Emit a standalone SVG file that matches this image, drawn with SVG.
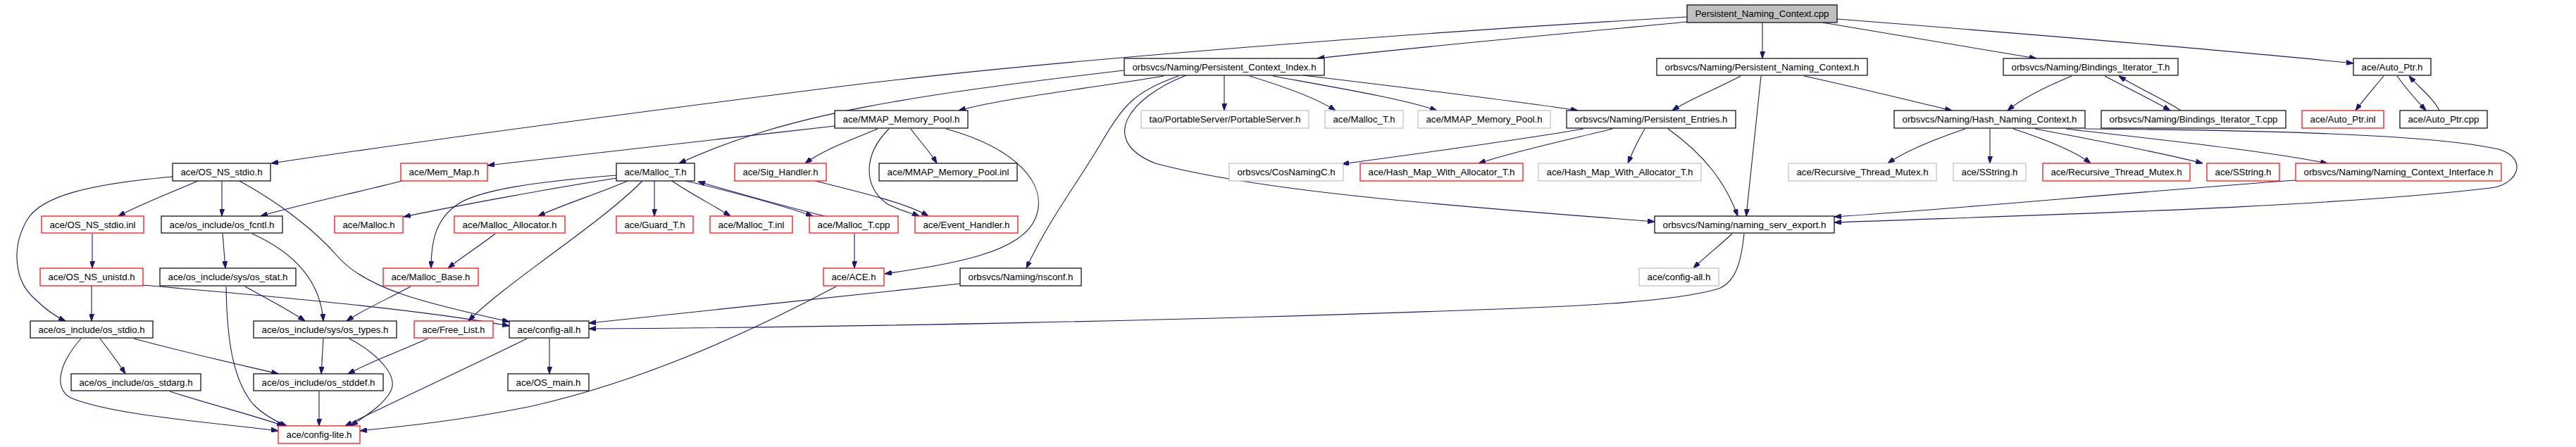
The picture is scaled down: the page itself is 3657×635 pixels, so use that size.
<svg xmlns="http://www.w3.org/2000/svg" width="3657" height="635" viewBox="0 0 3657 635">
<style>
.n rect{fill:#fff;stroke:#000;stroke-width:1.2}
.n.red rect{stroke:#f00}
.n.gray rect{stroke:#bfbfbf}
.n.root rect{fill:#bfbfbf}
.n text{font-family:"Liberation Sans",Arial,sans-serif;font-size:13px;fill:#000;text-anchor:middle}
#edges path{fill:none;stroke:#191970;stroke-width:1.1;marker-end:url(#ah)}
</style>
<defs>
<marker id="ah" viewBox="0 0 10 7" markerWidth="10" markerHeight="7" markerUnits="userSpaceOnUse" refX="10" refY="3.5" orient="auto">
<path d="M0,0 L10,3.5 L0,7 z" fill="#191970" stroke="#191970"/>
</marker>
</defs>
<rect width="3657" height="635" fill="#fff"/>
<g id="edges">
<path d="M2395,31 C2200,50 2000,68 1870,83"/>
<path d="M2395,24 C2000,47 1500,85 1200,122 C900,160 600,200 385,232"/>
<path d="M2502,32 L2502,83"/>
<path d="M2587,32 C2700,50 2800,68 2891,83"/>
<path d="M2608,27 C2900,50 3200,75 3341,90"/>
<path d="M1595,100 C1300,135 1120,160 964,232"/>
<path d="M1652,108 C1550,125 1420,140 1361,157"/>
<path d="M1738,107 L1738,157"/>
<path d="M1774,108 C1830,125 1870,140 1896,157"/>
<path d="M1807,108 C1900,125 1990,140 2040,157"/>
<path d="M1850,107 C2000,125 2150,143 2240,157"/>
<path d="M1673,108 C1610,130 1595,150 1565,200 C1530,260 1490,310 1457,381"/>
<path d="M1684,107 C1600,140 1560,200 1640,232 C1800,275 2100,295 2349,315"/>
<path d="M2248,183 C2150,200 2000,220 1905,233"/>
<path d="M2289,183 C2220,200 2150,215 2099,232"/>
<path d="M2335,183 C2325,200 2318,215 2311,232"/>
<path d="M2368,183 C2420,220 2450,260 2467,307"/>
<path d="M2471,108 C2440,125 2400,140 2374,157"/>
<path d="M2500,108 L2479,307"/>
<path d="M2561,108 C2640,125 2720,145 2771,157"/>
<path d="M2941,108 C2900,125 2870,140 2850,157"/>
<path d="M2988,108 C3020,125 3055,142 3081,157"/>
<path d="M3096,157 C3070,140 3035,125 3008,108"/>
<path d="M3384,108 C3370,125 3355,142 3344,157"/>
<path d="M3403,108 C3415,125 3430,142 3444,157"/>
<path d="M3463,157 C3455,140 3435,125 3420,108"/>
<path d="M2790,183 C2740,200 2700,218 2680,232"/>
<path d="M2825,183 L2825,232"/>
<path d="M2858,183 C2910,200 2950,218 2968,232"/>
<path d="M2889,183 C2980,200 3080,220 3127,232"/>
<path d="M2933,183 C3080,200 3220,215 3304,232"/>
<path d="M2960,183 C3200,185 3450,190 3547,212 C3590,225 3575,262 3536,267 C3300,295 2900,305 2604,316"/>
<path d="M3259,256 C3000,275 2800,295 2604,308"/>
<path d="M2459,332 C2440,350 2420,365 2404,381"/>
<path d="M2476,332 C2472,370 2465,400 2440,410 C2380,428 2250,435 2100,440 C1700,455 1200,465 836,467"/>
<path d="M1363,403 C1200,420 1000,442 836,459"/>
<path d="M1185,179 C1000,200 800,222 692,235"/>
<path d="M1246,183 C1210,198 1170,212 1143,232"/>
<path d="M1293,183 C1305,200 1320,215 1330,232"/>
<path d="M1262,183 C1225,220 1225,265 1260,290 C1280,300 1295,303 1305,307"/>
<path d="M1157,257 C1230,275 1290,290 1318,307"/>
<path d="M1343,183 C1440,210 1490,260 1470,310 C1450,360 1350,375 1256,389"/>
<path d="M875,253 C780,268 650,292 573,308"/>
<path d="M875,249 C760,258 680,270 650,290 C620,310 612,340 612,381"/>
<path d="M891,257 C850,275 800,290 764,307"/>
<path d="M912,257 C850,320 720,400 665,456"/>
<path d="M929,257 L929,307"/>
<path d="M954,257 C980,275 1010,290 1037,307"/>
<path d="M974,257 C1050,275 1110,292 1154,307"/>
<path d="M1171,307 C1100,290 1040,272 991,258"/>
<path d="M703,332 C680,350 660,362 636,381"/>
<path d="M1213,332 L1213,381"/>
<path d="M1187,407 C1050,480 900,545 750,578 C650,598 570,606 511,612"/>
<path d="M780,481 L780,531"/>
<path d="M748,481 C690,510 560,570 490,605"/>
<path d="M607,481 C570,498 530,512 494,531"/>
<path d="M245,251 C120,262 60,280 40,310 C15,350 20,400 50,425 C65,440 80,450 93,456"/>
<path d="M281,257 C240,275 200,290 168,307"/>
<path d="M315,257 L315,307"/>
<path d="M340,257 C400,290 450,330 480,365 C520,410 600,430 723,457"/>
<path d="M571,257 C500,275 420,292 370,307"/>
<path d="M316,332 L320,381"/>
<path d="M358,332 C420,360 455,400 459,456"/>
<path d="M131,332 L131,381"/>
<path d="M130,406 L130,456"/>
<path d="M203,405 C400,422 600,440 723,463"/>
<path d="M348,407 C380,425 410,440 433,456"/>
<path d="M321,407 C322,480 330,540 360,575 C375,590 395,600 407,605"/>
<path d="M583,407 C550,425 515,440 492,456"/>
<path d="M142,481 C155,498 168,515 178,531"/>
<path d="M190,481 C260,500 340,518 395,531"/>
<path d="M115,481 C85,515 75,550 100,565 C160,590 300,600 395,612"/>
<path d="M459,481 L456,531"/>
<path d="M496,481 C540,505 565,535 555,555 C545,575 520,590 498,605"/>
<path d="M241,556 C300,575 360,590 403,605"/>
<path d="M453,556 L453,605"/>
</g>
<g id="n0" class="n root"><rect x="2395" y="7" width="213" height="25"/><text x="2501.5" y="24" textLength="190" lengthAdjust="spacingAndGlyphs">Persistent_Naming_Context.cpp</text></g>
<g id="n1" class="n"><rect x="1596" y="83" width="284" height="24"/><text x="1738" y="100" textLength="261" lengthAdjust="spacingAndGlyphs">orbsvcs/Naming/Persistent_Context_Index.h</text></g>
<g id="n2" class="n"><rect x="2352" y="83" width="299" height="24"/><text x="2501.5" y="100" textLength="276" lengthAdjust="spacingAndGlyphs">orbsvcs/Naming/Persistent_Naming_Context.h</text></g>
<g id="n3" class="n"><rect x="2844" y="83" width="248" height="24"/><text x="2968" y="100" textLength="225" lengthAdjust="spacingAndGlyphs">orbsvcs/Naming/Bindings_Iterator_T.h</text></g>
<g id="n4" class="n"><rect x="3341" y="83" width="110" height="24"/><text x="3396" y="100" textLength="87" lengthAdjust="spacingAndGlyphs">ace/Auto_Ptr.h</text></g>
<g id="n5" class="n"><rect x="1185" y="157" width="189" height="25"/><text x="1279.5" y="174" textLength="166" lengthAdjust="spacingAndGlyphs">ace/MMAP_Memory_Pool.h</text></g>
<g id="n6" class="n gray"><rect x="1620" y="157" width="238" height="25"/><text x="1739" y="174" textLength="215" lengthAdjust="spacingAndGlyphs">tao/PortableServer/PortableServer.h</text></g>
<g id="n7" class="n gray"><rect x="1881" y="157" width="111" height="25"/><text x="1936.5" y="174" textLength="88" lengthAdjust="spacingAndGlyphs">ace/Malloc_T.h</text></g>
<g id="n8" class="n gray"><rect x="2013" y="157" width="188" height="25"/><text x="2107" y="174" textLength="165" lengthAdjust="spacingAndGlyphs">ace/MMAP_Memory_Pool.h</text></g>
<g id="n9" class="n"><rect x="2224" y="157" width="240" height="25"/><text x="2344" y="174" textLength="217" lengthAdjust="spacingAndGlyphs">orbsvcs/Naming/Persistent_Entries.h</text></g>
<g id="n10" class="n"><rect x="2689" y="157" width="271" height="25"/><text x="2824.5" y="174" textLength="248" lengthAdjust="spacingAndGlyphs">orbsvcs/Naming/Hash_Naming_Context.h</text></g>
<g id="n11" class="n"><rect x="2983" y="157" width="262" height="25"/><text x="3114" y="174" textLength="239" lengthAdjust="spacingAndGlyphs">orbsvcs/Naming/Bindings_Iterator_T.cpp</text></g>
<g id="n12" class="n red"><rect x="3268" y="157" width="116" height="25"/><text x="3326" y="174" textLength="93" lengthAdjust="spacingAndGlyphs">ace/Auto_Ptr.inl</text></g>
<g id="n13" class="n"><rect x="3407" y="157" width="124" height="25"/><text x="3469" y="174" textLength="101" lengthAdjust="spacingAndGlyphs">ace/Auto_Ptr.cpp</text></g>
<g id="n14" class="n"><rect x="245" y="232" width="139" height="25"/><text x="314.5" y="249" textLength="116" lengthAdjust="spacingAndGlyphs">ace/OS_NS_stdio.h</text></g>
<g id="n15" class="n red"><rect x="569" y="232" width="123" height="25"/><text x="630.5" y="249" textLength="100" lengthAdjust="spacingAndGlyphs">ace/Mem_Map.h</text></g>
<g id="n16" class="n"><rect x="875" y="232" width="111" height="25"/><text x="930.5" y="249" textLength="88" lengthAdjust="spacingAndGlyphs">ace/Malloc_T.h</text></g>
<g id="n17" class="n red"><rect x="1043" y="232" width="130" height="25"/><text x="1108" y="249" textLength="107" lengthAdjust="spacingAndGlyphs">ace/Sig_Handler.h</text></g>
<g id="n18" class="n"><rect x="1248" y="232" width="196" height="25"/><text x="1346" y="249" textLength="173" lengthAdjust="spacingAndGlyphs">ace/MMAP_Memory_Pool.inl</text></g>
<g id="n19" class="n gray"><rect x="1745" y="232" width="162" height="25"/><text x="1826" y="249" textLength="139" lengthAdjust="spacingAndGlyphs">orbsvcs/CosNamingC.h</text></g>
<g id="n20" class="n red"><rect x="1931" y="232" width="231" height="25"/><text x="2046.5" y="249" textLength="208" lengthAdjust="spacingAndGlyphs">ace/Hash_Map_With_Allocator_T.h</text></g>
<g id="n21" class="n gray"><rect x="2184" y="232" width="231" height="25"/><text x="2299.5" y="249" textLength="208" lengthAdjust="spacingAndGlyphs">ace/Hash_Map_With_Allocator_T.h</text></g>
<g id="n22" class="n gray"><rect x="2539" y="232" width="210" height="25"/><text x="2644" y="249" textLength="187" lengthAdjust="spacingAndGlyphs">ace/Recursive_Thread_Mutex.h</text></g>
<g id="n23" class="n gray"><rect x="2773" y="232" width="103" height="25"/><text x="2824.5" y="249" textLength="80" lengthAdjust="spacingAndGlyphs">ace/SString.h</text></g>
<g id="n24" class="n red"><rect x="2900" y="232" width="209" height="25"/><text x="3004.5" y="249" textLength="186" lengthAdjust="spacingAndGlyphs">ace/Recursive_Thread_Mutex.h</text></g>
<g id="n25" class="n red"><rect x="3133" y="232" width="103" height="25"/><text x="3184.5" y="249" textLength="80" lengthAdjust="spacingAndGlyphs">ace/SString.h</text></g>
<g id="n26" class="n red"><rect x="3259" y="232" width="292" height="25"/><text x="3405" y="249" textLength="269" lengthAdjust="spacingAndGlyphs">orbsvcs/Naming/Naming_Context_Interface.h</text></g>
<g id="n27" class="n red"><rect x="59" y="307" width="145" height="24"/><text x="131.5" y="324" textLength="122" lengthAdjust="spacingAndGlyphs">ace/OS_NS_stdio.inl</text></g>
<g id="n28" class="n"><rect x="229" y="307" width="172" height="24"/><text x="315" y="324" textLength="149" lengthAdjust="spacingAndGlyphs">ace/os_include/os_fcntl.h</text></g>
<g id="n29" class="n red"><rect x="475" y="307" width="97" height="24"/><text x="523.5" y="324" textLength="74" lengthAdjust="spacingAndGlyphs">ace/Malloc.h</text></g>
<g id="n30" class="n red"><rect x="645" y="307" width="157" height="24"/><text x="723.5" y="324" textLength="134" lengthAdjust="spacingAndGlyphs">ace/Malloc_Allocator.h</text></g>
<g id="n31" class="n red"><rect x="875" y="307" width="109" height="24"/><text x="929.5" y="324" textLength="86" lengthAdjust="spacingAndGlyphs">ace/Guard_T.h</text></g>
<g id="n32" class="n red"><rect x="1008" y="307" width="117" height="24"/><text x="1066.5" y="324" textLength="94" lengthAdjust="spacingAndGlyphs">ace/Malloc_T.inl</text></g>
<g id="n33" class="n red"><rect x="1149" y="307" width="126" height="24"/><text x="1212" y="324" textLength="103" lengthAdjust="spacingAndGlyphs">ace/Malloc_T.cpp</text></g>
<g id="n34" class="n red"><rect x="1299" y="307" width="146" height="24"/><text x="1372" y="324" textLength="123" lengthAdjust="spacingAndGlyphs">ace/Event_Handler.h</text></g>
<g id="n35" class="n"><rect x="2349" y="307" width="255" height="24"/><text x="2476.5" y="324" textLength="232" lengthAdjust="spacingAndGlyphs">orbsvcs/Naming/naming_serv_export.h</text></g>
<g id="n36" class="n red"><rect x="57" y="381" width="146" height="25"/><text x="130" y="398" textLength="123" lengthAdjust="spacingAndGlyphs">ace/OS_NS_unistd.h</text></g>
<g id="n37" class="n"><rect x="227" y="381" width="193" height="25"/><text x="323.5" y="398" textLength="170" lengthAdjust="spacingAndGlyphs">ace/os_include/sys/os_stat.h</text></g>
<g id="n38" class="n red"><rect x="544" y="381" width="135" height="25"/><text x="611.5" y="398" textLength="112" lengthAdjust="spacingAndGlyphs">ace/Malloc_Base.h</text></g>
<g id="n39" class="n red"><rect x="1169" y="381" width="86" height="25"/><text x="1212" y="398" textLength="63" lengthAdjust="spacingAndGlyphs">ace/ACE.h</text></g>
<g id="n40" class="n"><rect x="1363" y="381" width="172" height="25"/><text x="1449" y="398" textLength="149" lengthAdjust="spacingAndGlyphs">orbsvcs/Naming/nsconf.h</text></g>
<g id="n41" class="n gray"><rect x="2327" y="381" width="113" height="25"/><text x="2383.5" y="398" textLength="90" lengthAdjust="spacingAndGlyphs">ace/config-all.h</text></g>
<g id="n42" class="n"><rect x="43" y="456" width="174" height="24"/><text x="130" y="473" textLength="151" lengthAdjust="spacingAndGlyphs">ace/os_include/os_stdio.h</text></g>
<g id="n43" class="n"><rect x="360" y="456" width="203" height="24"/><text x="461.5" y="473" textLength="180" lengthAdjust="spacingAndGlyphs">ace/os_include/sys/os_types.h</text></g>
<g id="n44" class="n red"><rect x="588" y="456" width="112" height="24"/><text x="644" y="473" textLength="89" lengthAdjust="spacingAndGlyphs">ace/Free_List.h</text></g>
<g id="n45" class="n"><rect x="723" y="456" width="113" height="24"/><text x="779.5" y="473" textLength="90" lengthAdjust="spacingAndGlyphs">ace/config-all.h</text></g>
<g id="n46" class="n"><rect x="101" y="531" width="184" height="24"/><text x="193" y="548" textLength="161" lengthAdjust="spacingAndGlyphs">ace/os_include/os_stdarg.h</text></g>
<g id="n47" class="n"><rect x="360" y="531" width="184" height="24"/><text x="452" y="548" textLength="161" lengthAdjust="spacingAndGlyphs">ace/os_include/os_stddef.h</text></g>
<g id="n48" class="n"><rect x="721" y="531" width="115" height="24"/><text x="778.5" y="548" textLength="92" lengthAdjust="spacingAndGlyphs">ace/OS_main.h</text></g>
<g id="n49" class="n red"><rect x="395" y="605" width="116" height="25"/><text x="453" y="622" textLength="93" lengthAdjust="spacingAndGlyphs">ace/config-lite.h</text></g>
</svg>
